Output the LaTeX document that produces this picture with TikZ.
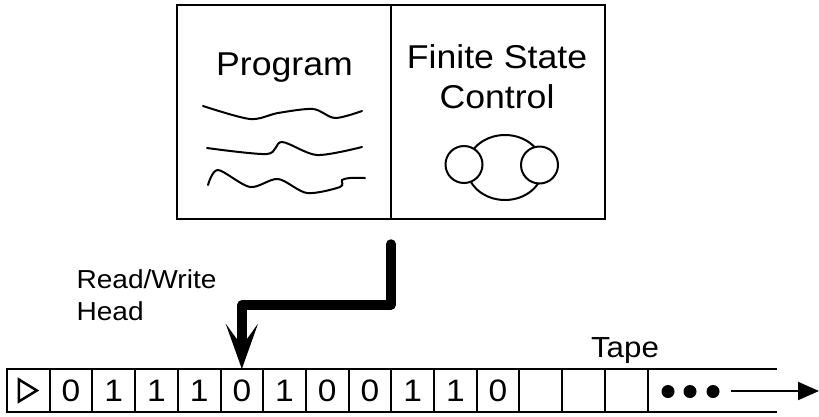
\documentclass[tikz,border=0pt]{standalone}
\usepackage{fontspec}
\setmainfont[FakeStretch=1.08]{Liberation Sans}
\usepackage{tikz}
\usetikzlibrary{arrows.meta,positioning}

\begin{document}
\begin{tikzpicture}[x=1pt,y=-1pt,
    part/.style={draw, line width=2.2pt, outer sep=0pt, minimum width=214pt, minimum height=214pt},
    cell/.style={draw, line width=2pt, outer sep=0pt, inner sep=0pt, minimum width=42.7pt, minimum height=43pt, font=\fontsize{31}{31}\selectfont},
    squig/.style={line width=2pt, line cap=round},
    head/.style={line width=9.5pt, line cap=round, line join=round, -{Stealth[length=45pt,width=32pt,inset=22pt]}}]
    \useasboundingbox (0,0) rectangle (819,416);

    % Machine box
    \node [part] (prog) at (284,112) {};
    \node [part, right=0pt of prog] (fsc) {};
    \node [anchor=base, font=\fontsize{33}{40}\selectfont] (progtitle) at (284.5,75) {Program};
    \node [anchor=base, align=center, font=\fontsize{33}{40}\selectfont] (fsctitle) at (497,108) {Finite State\\Control};

    % Program text
    \draw [squig] plot [smooth] coordinates {(203,106) (250,119) (278,113) (313,109) (335,118) (362,111)};
    \draw [squig] plot [smooth] coordinates {(207,148) (267,154) (282,142) (317,155) (362,147)};
    \draw [squig] plot [smooth] coordinates {(208,185) (218,170) (250,187) (278,179) (307,193) (340,187) (342,180) (350,178) (365,178)};

    % States
    \draw [line width=2pt] (505,167.5) ellipse (38 and 32.5);
    \draw [line width=2pt, fill=white] (464,164.5) circle (18.5pt);
    \draw [line width=2pt, fill=white] (539.5,165) circle (18.5pt);

    % Tape
    \foreach \b [count=\n] in {{},0,1,1,1,0,1,0,0,1,1,0,{},{},{}}
        \node [cell] (c\n) at (28.35+42.7*\n-42.7,390.5) {\b};
    \draw [line width=2.5pt, line join=miter] (c1.center) ++(-9.5,-11) -- ++(0,22) -- ++(18,-11) -- cycle;
    \coordinate (tapeend) at (777,390.5);
    \draw [line width=2pt] (c15.north east) -- (c15.north east -| tapeend);
    \draw [line width=2pt] (c15.south east) -- (c15.south east -| tapeend);
    \foreach \x in {668,690,713}
        \fill (\x,391.5) circle (6.5pt);
    \coordinate (dotsend) at (731,391);
    \coordinate (tapetip) at (819,391);
    \draw [line width=2pt, -{Triangle[length=21pt,width=18pt]}] (dotsend) -- (tapetip);
    \node [anchor=base, font=\fontsize{29}{29}\selectfont] (tapelbl) at (625,357) {Tape};

    % Head
    \node [anchor=base west, align=left, font=\fontsize{26}{32}\selectfont] (headlbl) at (73,320) {Read/Write\\Head};
    \draw [head] (prog.south east) ++(0,25) -- ++(0,61) -| (c6.north);
\end{tikzpicture}
\end{document}
